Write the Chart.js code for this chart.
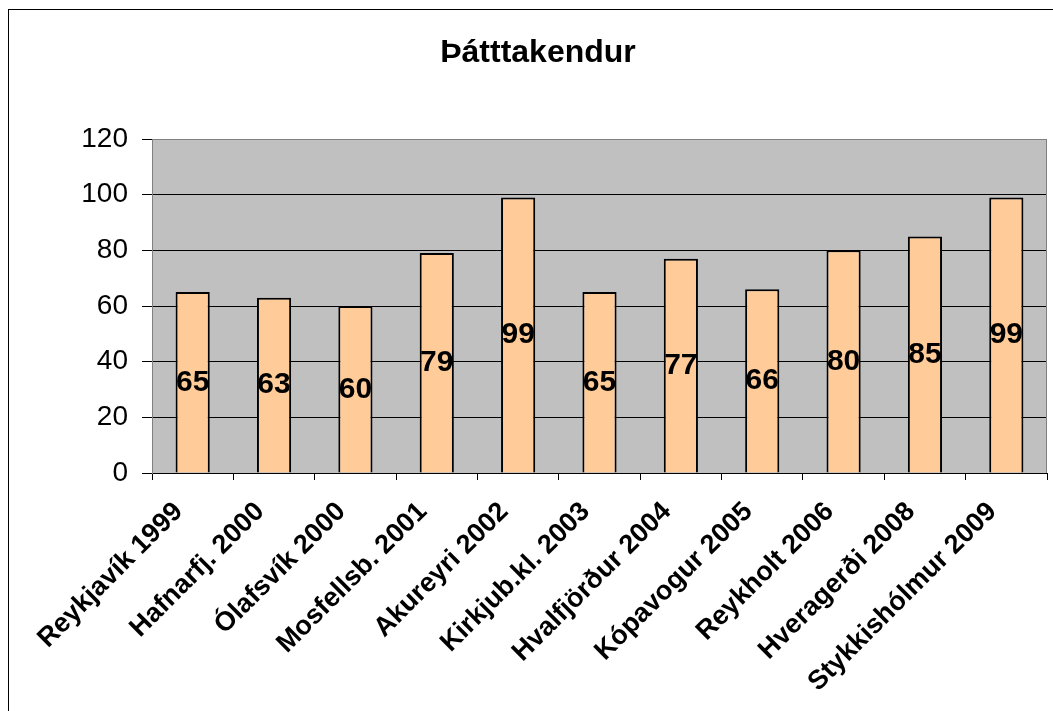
<!DOCTYPE html>
<html>
<head>
<meta charset="utf-8">
<script src="https://cdn.jsdelivr.net/npm/chart.js@4.4.1/dist/chart.umd.min.js"></script>
<style>
  html, body { margin: 0; padding: 0; background: #fff; overflow: hidden; width: 1053px; height: 711px; }
  #frame { position: absolute; left: 8px; top: 9px; width: 1100px; height: 760px; border: 1px solid #000; }
  canvas { display: block; }
</style>
</head>
<body>
<div id="frame">
  <canvas id="chart" width="1058" height="701"></canvas>
</div>
<script>
const categories = [
  "Reykjavík 1999", "Hafnarfj. 2000", "Ólafsvík 2000", "Mosfellsb. 2001",
  "Akureyri 2002", "Kirkjub.kl. 2003", "Hvalfjörður 2004", "Kópavogur 2005",
  "Reykholt 2006", "Hveragerði 2008", "Stykkishólmur 2009"
];
const participants = [65, 63, 60, 79, 99, 65, 77, 66, 80, 85, 99];
const title = "Þátttakendur";

const FONT = "'Liberation Sans', Arial, sans-serif";

// gray plot background + gray top/right edge, like the old Excel chart
const plotArea = {
  id: "plotArea",
  beforeDraw(chart) {
    const { ctx, chartArea: a } = chart;
    ctx.save();
    ctx.fillStyle = "#C0C0C0";
    ctx.fillRect(a.left, a.top, a.right - a.left, a.bottom - a.top);
    ctx.restore();
  },
  beforeDatasetsDraw(chart) {
    const { ctx, chartArea: a } = chart;
    ctx.save();
    ctx.strokeStyle = "#808080";
    ctx.lineWidth = 1;
    ctx.beginPath();
    ctx.moveTo(a.left, a.top + 0.5);
    ctx.lineTo(a.right - 0.5, a.top + 0.5);
    ctx.lineTo(a.right - 0.5, a.bottom);
    ctx.stroke();
    ctx.restore();
  }
};

// value labels in the middle of each bar
const barLabels = {
  id: "barLabels",
  afterDatasetsDraw(chart) {
    const { ctx } = chart;
    const meta = chart.getDatasetMeta(0);
    ctx.save();
    ctx.font = "bold 30px " + FONT;
    ctx.fillStyle = "#000";
    ctx.textAlign = "center";
    ctx.textBaseline = "middle";
    meta.data.forEach((bar, i) => {
      ctx.fillText(String(participants[i]), bar.x, (bar.y + bar.base) / 2);
    });
    ctx.restore();
  }
};

new Chart(document.getElementById("chart"), {
  type: "bar",
  data: {
    labels: categories,
    datasets: [{
      data: participants,
      backgroundColor: "#FFCC99",
      borderColor: "#000",
      borderWidth: 2,
      categoryPercentage: 1,
      barPercentage: 0.42
    }]
  },
  options: {
    responsive: false,
    animation: false,
    devicePixelRatio: 1,
    layout: { padding: { left: 20, right: 20, top: 0, bottom: 0 } },
    plugins: {
      legend: { display: false },
      tooltip: { enabled: false },
      title: {
        display: true,
        text: title,
        color: "#000",
        font: { family: FONT, size: 32, weight: "bold", lineHeight: 1.2 },
        padding: { top: 24, bottom: 66.6 }
      }
    },
    scales: {
      x: {
        afterFit(scale) { scale.height = 238; },
        grid: {
          offset: true,
          drawOnChartArea: false,
          drawTicks: true,
          tickLength: 7,
          tickColor: "#000"
        },
        border: { color: "#000", width: 1 },
        ticks: {
          color: "#000",
          maxRotation: 45,
          minRotation: 45,
          autoSkip: false,
          padding: 16,
          labelOffset: -14,
          font: { family: FONT, size: 27, weight: "bold" }
        }
      },
      y: {
        min: 0,
        max: 120,
        afterFit(scale) { scale.width = 123; },
        grid: {
          color: (c) => (c.tick && c.tick.value === 120 ? "#808080" : "#000"),
          tickColor: "#000",
          tickLength: 10
        },
        border: { color: "#808080", width: 1 },
        ticks: {
          stepSize: 20,
          color: "#000",
          padding: 14,
          font: { family: FONT, size: 28 }
        }
      }
    }
  },
  plugins: [plotArea, barLabels]
});
</script>
</body>
</html>
